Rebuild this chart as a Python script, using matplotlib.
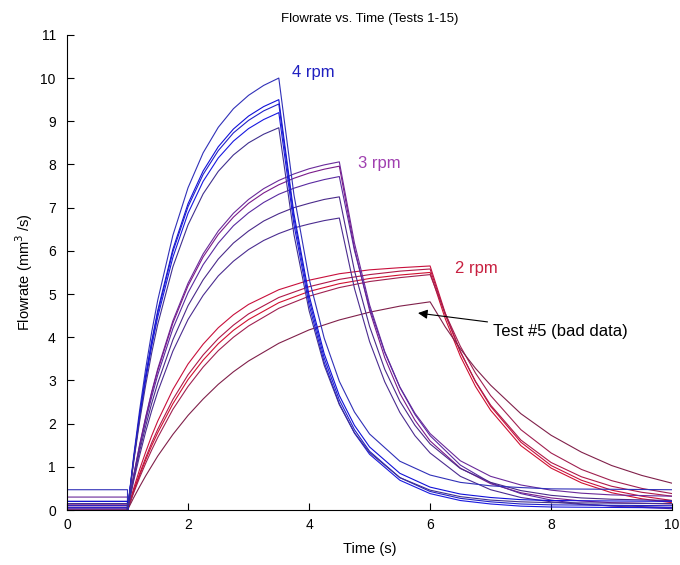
import matplotlib
matplotlib.use('Agg')
import matplotlib.pyplot as plt

plt.rcParams['font.family'] = ['Liberation Sans', 'DejaVu Sans']

# time samples (s) for each speed group
t_4rpm = [0, 1.0, 1.0, 1.1, 1.2, 1.3, 1.4, 1.5, 1.75, 2.0, 2.25, 2.5, 2.75, 3.0, 3.25, 3.5,
          3.75, 4.0, 4.25, 4.5, 4.75, 5.0, 5.5, 6.0, 6.5, 7.0, 7.5, 8.0, 9.0, 10.0]
t_3rpm = [0, 1.0, 1.0, 1.1, 1.2, 1.3, 1.4, 1.5, 1.75, 2.0, 2.25, 2.5, 2.75, 3.0, 3.25, 3.5,
          3.75, 4.0, 4.25, 4.5, 4.75, 5.0, 5.25, 5.5, 5.75, 6.0, 6.5, 7.0, 7.5, 8.0, 8.5, 9.0, 10.0]
t_2rpm = [0, 1.0, 1.0, 1.1, 1.2, 1.3, 1.4, 1.5, 1.75, 2.0, 2.25, 2.5, 2.75, 3.0, 3.5, 4.0,
          4.5, 5.0, 5.5, 6.0, 6.25, 6.5, 6.75, 7.0, 7.5, 8.0, 8.5, 9.0, 9.5, 10.0]

# flowrate (mm^3/s)
flow_4rpm = [
  [0.47, 0.47, 0, 1.23, 2.31, 3.27, 4.12, 4.86, 6.36, 7.46, 8.27, 8.86, 9.29, 9.60, 9.83, 10.0,
   7.30, 5.36, 3.98, 2.98, 2.27, 1.76, 1.13, 0.81, 0.64, 0.56, 0.52, 0.49, 0.48, 0.47],
  [0.2, 0.2, 0, 1.17, 2.20, 3.11, 3.91, 4.62, 6.04, 7.09, 7.85, 8.41, 8.82, 9.12, 9.34, 9.5,
   6.86, 4.97, 3.62, 2.65, 1.96, 1.46, 0.85, 0.53, 0.37, 0.29, 0.24, 0.22, 0.21, 0.2],
  [0.1, 0.1, 0, 1.16, 2.18, 3.07, 3.87, 4.57, 5.98, 7.02, 7.77, 8.32, 8.73, 9.02, 9.24, 9.4,
   6.76, 4.87, 3.52, 2.55, 1.86, 1.36, 0.75, 0.43, 0.27, 0.19, 0.14, 0.12, 0.11, 0.10],
  [0.05, 0.05, 0, 1.13, 2.13, 3.01, 3.79, 4.47, 5.85, 6.87, 7.61, 8.15, 8.54, 8.83, 9.04, 9.2,
   6.61, 4.75, 3.42, 2.46, 1.78, 1.29, 0.69, 0.38, 0.22, 0.14, 0.09, 0.07, 0.06, 0.05],
  [0.15, 0.15, 0, 1.09, 2.05, 2.89, 3.64, 4.30, 5.63, 6.60, 7.32, 7.84, 8.22, 8.50, 8.70, 8.85,
   6.38, 4.62, 3.35, 2.44, 1.79, 1.33, 0.75, 0.46, 0.31, 0.23, 0.19, 0.17, 0.16, 0.15],
]
flow_3rpm = [
  [0.3, 0.3, 0, 0.79, 1.51, 2.15, 2.74, 3.27, 4.38, 5.25, 5.93, 6.46, 6.87, 7.19, 7.44, 7.63,
   7.78, 7.90, 7.99, 8.06, 6.18, 4.75, 3.67, 2.85, 2.24, 1.77, 1.14, 0.78, 0.58, 0.46, 0.39, 0.35, 0.32],
  [0.12, 0.12, 0, 0.78, 1.49, 2.13, 2.71, 3.23, 4.33, 5.19, 5.86, 6.38, 6.78, 7.10, 7.34, 7.53,
   7.68, 7.80, 7.89, 7.96, 6.06, 4.62, 3.53, 2.70, 2.08, 1.60, 0.97, 0.61, 0.40, 0.28, 0.21, 0.17, 0.14],
  [0, 0, 0, 0.76, 1.44, 2.06, 2.62, 3.13, 4.20, 5.03, 5.68, 6.18, 6.58, 6.88, 7.12, 7.31,
   7.45, 7.56, 7.65, 7.72, 6.01, 4.68, 3.65, 2.84, 2.21, 1.72, 1.04, 0.63, 0.38, 0.23, 0.14, 0.09, 0.03],
  [0.2, 0.2, 0, 0.71, 1.36, 1.94, 2.47, 2.94, 3.94, 4.73, 5.33, 5.81, 6.18, 6.46, 6.69, 6.86,
   7.00, 7.10, 7.19, 7.25, 5.54, 4.25, 3.26, 2.52, 1.96, 1.53, 0.96, 0.64, 0.45, 0.34, 0.28, 0.25, 0.22],
  [0.05, 0.05, 0, 0.66, 1.26, 1.81, 2.30, 2.74, 3.68, 4.41, 4.97, 5.42, 5.76, 6.03, 6.24, 6.40,
   6.53, 6.62, 6.70, 6.76, 5.13, 3.90, 2.97, 2.26, 1.72, 1.32, 0.78, 0.47, 0.29, 0.19, 0.13, 0.10, 0.06],
]
flow_2rpm = [
  [0.05, 0.05, 0, 0.49, 0.94, 1.34, 1.72, 2.06, 2.79, 3.38, 3.84, 4.22, 4.52, 4.76, 5.10, 5.32,
   5.47, 5.56, 5.61, 5.65, 4.56, 3.67, 2.97, 2.40, 1.57, 1.03, 0.69, 0.46, 0.32, 0.22],
  [0.15, 0.15, 0, 0.44, 0.84, 1.21, 1.56, 1.87, 2.56, 3.13, 3.59, 3.97, 4.28, 4.54, 4.92, 5.17,
   5.34, 5.45, 5.53, 5.58, 4.52, 3.66, 2.98, 2.43, 1.62, 1.10, 0.77, 0.55, 0.41, 0.32],
  [0, 0, 0, 0.42, 0.80, 1.16, 1.49, 1.79, 2.46, 3.02, 3.47, 3.85, 4.16, 4.41, 4.80, 5.06,
   5.24, 5.36, 5.44, 5.50, 4.43, 3.56, 2.86, 2.31, 1.49, 0.97, 0.63, 0.40, 0.26, 0.17],
  [0.1, 0.1, 0, 0.39, 0.75, 1.08, 1.39, 1.68, 2.33, 2.86, 3.31, 3.69, 4.00, 4.26, 4.67, 4.95,
   5.15, 5.29, 5.38, 5.45, 4.55, 3.79, 3.17, 2.65, 1.86, 1.32, 0.94, 0.68, 0.50, 0.38],
  # test #5
  [0, 0, 0, 0.28, 0.54, 0.79, 1.02, 1.25, 1.75, 2.19, 2.57, 2.91, 3.20, 3.45, 3.86, 4.17,
   4.40, 4.58, 4.72, 4.82, 4.24, 3.73, 3.28, 2.89, 2.23, 1.73, 1.34, 1.03, 0.80, 0.62],
]

colors_4rpm = ['#3030b8', '#1010d8', '#2020c8', '#1818e0', '#40308f']
colors_3rpm = ['#6a2a9a', '#7a1a8a', '#5a2aa0', '#4a2a8a', '#4b2c90']
colors_2rpm = ['#c8103c', '#b01848', '#d01030', '#a02050', '#80204a']

fig = plt.figure(figsize=(6.8, 5.65), dpi=100)
ax = fig.add_axes([0.0985, 0.0973, 0.89, 0.841])

for t, group, cols in [(t_2rpm, flow_2rpm, colors_2rpm),
                       (t_3rpm, flow_3rpm, colors_3rpm),
                       (t_4rpm, flow_4rpm, colors_4rpm)]:
  for y, c in zip(group, cols):
    ax.plot(t, y, color=c, lw=0.8)

ax.text(3.72, 10.14, '4 rpm', color='#2020c0', fontsize=12, va='center')
ax.text(4.81, 8.03, '3 rpm', color='#a040b0', fontsize=12, va='center')
ax.text(6.41, 5.6, '2 rpm', color='#c82040', fontsize=12, va='center')
ax.annotate('Test #5 (bad data)', xy=(5.8, 4.56), xytext=(7.04, 4.14),
            fontsize=12, va='center',
            arrowprops=dict(arrowstyle='-|>', color='k', lw=0.8, mutation_scale=14,
                            shrinkA=2, shrinkB=0))

ax.set_xlim(0, 10)
ax.set_ylim(0, 11)
ax.set_xticks([0, 2, 4, 6, 8, 10])
ax.set_yticks(range(12))
ax.spines['top'].set_visible(False)
ax.spines['right'].set_visible(False)
ax.tick_params(direction='in', length=5, labelsize=10, top=False, right=False)
ax.tick_params(axis='y', pad=8)
ax.tick_params(axis='x', pad=6)
ax.set_title('Flowrate vs. Time (Tests 1-15)', fontsize=9.5, pad=9)
ax.set_xlabel('Time (s)', fontsize=10.5, labelpad=7)
ax.set_ylabel('Flowrate (mm$^3$ /s)', fontsize=10.5, labelpad=4)

plt.savefig('out.png', dpi=100)
